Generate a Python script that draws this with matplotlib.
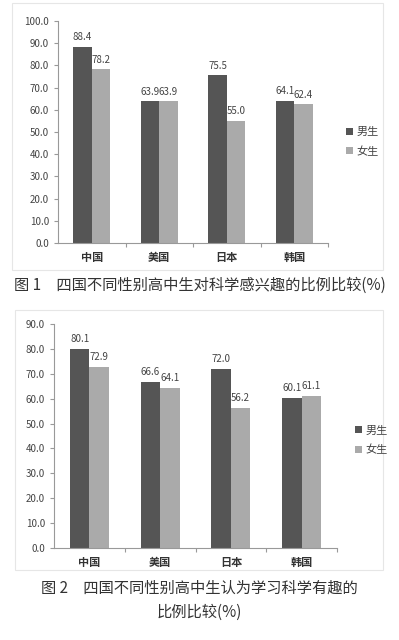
import matplotlib
matplotlib.use('Agg')
import matplotlib.pyplot as plt
from matplotlib.patches import Rectangle
import numpy as np

plt.rcParams['font.family'] = ['Noto Sans CJK SC', 'DejaVu Sans']

countries = ['中国', '美国', '日本', '韩国']
series_names = ['男生', '女生']

# figure 1: interest in science (%)
fig1_male = [88.4, 63.9, 75.5, 64.1]
fig1_female = [78.2, 63.9, 55.0, 62.4]

# figure 2: think learning science is interesting (%)
fig2_male = [80.1, 66.6, 72.0, 60.1]
fig2_female = [72.9, 64.1, 56.2, 61.1]

caption1 = '图 1　四国不同性别高中生对科学感兴趣的比例比较(%)'
caption2_lines = ['图 2　四国不同性别高中生认为学习科学有趣的', '比例比较(%)']

male_color = '#555555'
female_color = '#aaaaaa'
axis_color = '#999999'
text_color = '#444444'

W, H = 399, 640
fig = plt.figure(figsize=(W / 100, H / 100), dpi=100)
fig.patch.set_facecolor('white')


def px_axes(left, right, top, bottom):
    ax = fig.add_axes([left / W, 1 - bottom / H, (right - left) / W, (bottom - top) / H])
    ax.set_facecolor('none')
    ax.set_zorder(2)
    return ax


def panel(left, right, top, bottom):
    fig.patches.append(Rectangle((left / W, 1 - bottom / H), (right - left) / W, (bottom - top) / H,
                                 transform=fig.transFigure, facecolor='none',
                                 edgecolor='#e6e6e6', linewidth=0.8, zorder=-1))


def draw_chart(ax, male, female, ymax, legend_y):
    x = np.arange(len(countries))
    w = 0.275
    ax.bar(x - w / 2, male, w, color=male_color, label=series_names[0])
    ax.bar(x + w / 2, female, w, color=female_color, label=series_names[1])
    for xi, v in zip(x, male):
        ax.text(xi - w / 2, v + 2, '%.1f' % v, ha='center', va='bottom',
                fontsize=7, color=text_color)
    for xi, v in zip(x, female):
        ax.text(xi + w / 2, v + 2, '%.1f' % v, ha='center', va='bottom',
                fontsize=7, color=text_color)
    ax.set_xlim(-0.5, len(countries) - 0.5)
    ax.set_ylim(0, ymax)
    ax.set_yticks(np.arange(0, ymax + 1, 10))
    ax.set_yticklabels(['%.1f' % t for t in np.arange(0, ymax + 1, 10)])
    ax.set_xticks(x + 0.5)
    ax.set_xticklabels([])
    ax.set_xticks(x, minor=True)
    ax.set_xticklabels(countries, minor=True, fontsize=8, color='#333333', fontweight='bold')
    ax.tick_params(axis='x', which='minor', length=0, pad=6)
    ax.tick_params(axis='x', which='major', length=3, color=axis_color)
    ax.tick_params(axis='y', length=3, color=axis_color, labelsize=7, labelcolor=text_color)
    for s in ['top', 'right']:
        ax.spines[s].set_visible(False)
    for s in ['left', 'bottom']:
        ax.spines[s].set_color(axis_color)
        ax.spines[s].set_linewidth(0.8)
    ax.legend(loc='center left', bbox_to_anchor=(1.03, legend_y), frameon=False,
              fontsize=8, handlelength=0.6, handleheight=0.6, handletextpad=0.3,
              labelspacing=0.8, labelcolor=text_color)


# chart 1
panel(12, 383, 3, 270)
ax1 = px_axes(58, 328, 21, 243)
draw_chart(ax1, fig1_male, fig1_female, 100, 0.455)
fig.text(0.5, 1 - 285 / H, caption1, ha='center', va='center', fontsize=11, color='#333333')

# chart 2
panel(15, 383, 310, 570)
ax2 = px_axes(54, 337, 324, 548)
draw_chart(ax2, fig2_male, fig2_female, 90, 0.48)
fig.text(0.5, 1 - 588 / H, caption2_lines[0], ha='center', va='center', fontsize=11, color='#333333')
fig.text(0.5, 1 - 612 / H, caption2_lines[1], ha='center', va='center', fontsize=11, color='#333333')

fig.savefig('out.png', dpi=100)
